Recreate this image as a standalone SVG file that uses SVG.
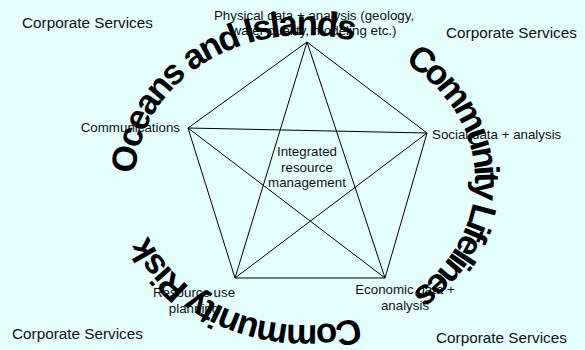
<svg xmlns="http://www.w3.org/2000/svg" width="585" height="350" viewBox="0 0 585 350">
<defs>
<style>
.lbl{font-family:"Liberation Sans",Arial,sans-serif;font-size:13.33px;fill:#111}
.corp{font-family:"Liberation Sans",Arial,sans-serif;font-size:15.3px;fill:#111}
.arc{font-family:"Liberation Sans",Arial,sans-serif;font-size:35px;font-weight:bold;fill:#000}
.edge{stroke:#000;stroke-width:1;fill:none}
</style>
<path id="ring" d="M135,180 A170,145 0 1 1 475,180 A170,145 0 1 1 135,180"/>
</defs>
<rect width="585" height="350" fill="#E5FFFF"/>
<g id="connectors">
<polygon class="edge" points="307,42 427,133 385,278 235,278 188,128"/>
<line class="edge" x1="307" y1="42" x2="235" y2="278"/>
<line class="edge" x1="307" y1="42" x2="385" y2="278"/>
<line class="edge" x1="188" y1="128" x2="427" y2="133"/>
<line class="edge" x1="188" y1="128" x2="385" y2="278"/>
<line class="edge" x1="427" y1="133" x2="235" y2="278"/>
</g>
<g id="corporate-tl"><text class="corp" x="22" y="28">Corporate Services</text></g>
<g id="corporate-tr"><text class="corp" x="446" y="38">Corporate Services</text></g>
<g id="corporate-bl"><text class="corp" x="12" y="339">Corporate Services</text></g>
<g id="corporate-br"><text class="corp" x="436" y="343">Corporate Services</text></g>
<g id="physical"><text class="lbl" text-anchor="middle"><tspan x="314" y="20">Physical data + analysis (geology,</tspan><tspan x="314" y="35">water quality, modeling etc.)</tspan></text></g>
<g id="communications"><text class="lbl" x="180" y="132" text-anchor="end">Communications</text></g>
<g id="social"><text class="lbl" x="432" y="139">Social data + analysis</text></g>
<g id="integrated"><text class="lbl" text-anchor="middle"><tspan x="307" y="156">Integrated</tspan><tspan x="307" y="171.5">resource</tspan><tspan x="307" y="187">management</tspan></text></g>
<g id="resource-use"><text class="lbl" text-anchor="middle"><tspan x="194" y="297">Resource use</tspan><tspan x="194" y="313">planning</tspan></text></g>
<g id="economic"><text class="lbl" text-anchor="middle"><tspan x="405" y="294">Economic data +</tspan><tspan x="405" y="310">analysis</tspan></text></g>
<g id="oceans"><text class="arc"><textPath href="#ring" startOffset="6" textLength="291" lengthAdjust="spacing">Oceans and Islands</textPath></text></g>
<g id="lifelines"><text class="arc"><textPath href="#ring" startOffset="352" textLength="278" lengthAdjust="spacing">Community Lifelines</textPath></text></g>
<g id="risk"><text class="arc"><textPath href="#ring" startOffset="689" textLength="244" lengthAdjust="spacing">Community Risk</textPath></text></g>
</svg>
